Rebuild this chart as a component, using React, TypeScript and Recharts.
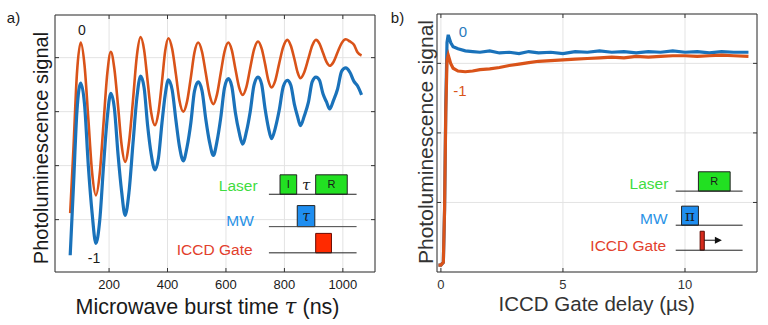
import React from "react";
import {
  LineChart,
  Line,
  XAxis,
  YAxis,
  CartesianGrid,
  ReferenceArea,
  ReferenceLine,
  ReferenceDot,
} from "recharts";

// a) Rabi oscillation vs microwave burst time (ns)
const rabiTime = [
  67, 78, 90, 103, 116, 129, 142, 155, 168, 181, 194, 206, 218, 231, 243, 255,
  268, 282, 295, 308, 320, 332, 344, 357, 369, 381, 392, 403, 416, 429, 441, 454,
  467, 480, 492, 505, 518, 531, 544, 557, 569, 582, 595, 608, 620, 632, 645, 657,
  670, 683, 696, 710, 722, 734, 745, 756, 769, 782, 796, 810, 822, 834, 845, 855,
  868, 882, 895, 908, 920, 932, 944, 955, 968, 982, 996, 1010, 1024, 1038, 1050, 1064,
];
const rabiZero = [
  1.12, 2.3, 3.7, 4.28, 3.86, 2.87, 1.87, 1.45, 1.85, 2.78, 3.71, 4.11, 3.8, 3.09, 2.38, 2.07,
  2.42, 3.22, 4.03, 4.38, 4.14, 3.56, 2.99, 2.75, 2.99, 3.55, 4.12, 4.36, 4.16, 3.68, 3.2, 3.0,
  3.19, 3.64, 4.09, 4.28, 4.11, 3.71, 3.31, 3.14, 3.31, 3.71, 4.11, 4.28, 4.14, 3.8, 3.45, 3.31,
  3.46, 3.81, 4.15, 4.3, 4.17, 3.88, 3.58, 3.45, 3.58, 3.89, 4.2, 4.33, 4.22, 3.98, 3.73, 3.62,
  3.73, 3.98, 4.22, 4.33, 4.26, 4.09, 3.92, 3.85, 3.92, 4.1, 4.27, 4.34, 4.3, 4.24, 4.1, 4.04,
];
const rabiMinus = [
  0.34, 1.6, 3.0, 3.53, 3.14, 2.0, 1.12, 0.56, 0.98, 1.99, 2.9, 3.34, 3.07, 2.19, 1.52, 1.08,
  1.5, 2.42, 3.25, 3.66, 3.44, 2.74, 2.22, 1.92, 2.14, 2.79, 3.31, 3.59, 3.4, 2.83, 2.35, 2.09,
  2.35, 2.8, 3.37, 3.55, 3.39, 2.86, 2.43, 2.19, 2.44, 2.88, 3.44, 3.61, 3.47, 2.99, 2.62, 2.4,
  2.63, 3.0, 3.49, 3.64, 3.51, 3.05, 2.71, 2.5, 2.7, 3.02, 3.46, 3.58, 3.49, 3.14, 2.91, 2.74,
  2.92, 3.17, 3.55, 3.64, 3.58, 3.33, 3.18, 3.05, 3.21, 3.42, 3.75, 3.81, 3.73, 3.56, 3.48, 3.31,
];
const rabiTicks = [200, 400, 600, 800, 1000];
const rabiLevels = [1, 2, 3, 4];

// b) PL vs ICCD gate delay (µs)
const delayTime = [
  -0.1, 0.0, 0.1, 0.15, 0.2, 0.25, 0.3, 0.4, 0.5, 0.7, 1.0, 1.3, 1.6, 2.0, 2.4, 2.8, 3.2, 3.6,
  4.0, 4.5, 5.0, 5.5, 6.0, 6.5, 7.0, 7.5, 8.0, 8.5, 9.0, 9.5, 10.0, 10.5, 11.0, 11.5, 12.0, 12.6,
];
const delayZero = [
  0.1, 0.1, 0.14, 0.9, 2.4, 3.3, 3.41, 3.3, 3.24, 3.21, 3.18, 3.17, 3.16, 3.18, 3.15, 3.16, 3.14, 3.17,
  3.15, 3.16, 3.14, 3.17, 3.16, 3.18, 3.16, 3.17, 3.15, 3.17, 3.16, 3.18, 3.16, 3.17, 3.15, 3.17, 3.16, 3.16,
];
const delayMinus = [
  0.1, 0.1, 0.14, 0.9, 2.3, 3.05, 3.12, 3.0, 2.93, 2.89, 2.88, 2.89, 2.91, 2.92, 2.94, 2.97, 2.99, 3.01,
  3.03, 3.04, 3.05, 3.06, 3.07, 3.08, 3.09, 3.08, 3.1, 3.09, 3.1, 3.11, 3.11, 3.1, 3.11, 3.12, 3.11, 3.1,
];
const delayTicks = [0, 5, 10];
const delayLevels = [1, 2, 3];

const rabiData = rabiTime.map((t, i) => ({ t, zero: rabiZero[i], minus: rabiMinus[i] }));
const delayData = delayTime.map((t, i) => ({ t, zero: delayZero[i], minus: delayMinus[i] }));

const ORANGE = "#d95319";
const BLUE = "#1a72ba";
const GRID = "#e3e3e3";
const AXIS = "#333";
const GREEN_TXT = "#3fdc3f";
const GREEN_BOX = "#22e022";
const BLUE_TXT = "#2a92e6";
const BLUE_BOX = "#1f8ef0";
const RED_TXT = "#e2402c";
const FONT = "'Liberation Sans', Arial, Helvetica, sans-serif";

const makeTick = (side: string, color?: string) => (p: any) => {
  const { x, y, payload } = p;
  const L = 4;
  const c =
    side === "bottom" ? [x, y, x, y - L] :
    side === "top" ? [x, y, x, y + L] :
    side === "left" ? [x, y, x + L, y] : [x, y, x - L, y];
  return (
    <g>
      <line x1={c[0]} y1={c[1]} x2={c[2]} y2={c[3]} stroke={AXIS} strokeWidth={1} />
      {color && (
        <text x={x} y={y + 17} textAnchor="middle" fontSize={13} fontFamily={FONT} fill={color}>
          {payload.value}
        </text>
      )}
    </g>
  );
};

const txtLabel = (value: string, fill: string, size = 15.5) => ({
  value,
  position: "left" as const,
  offset: 0,
  fill,
  fontSize: size,
  fontFamily: FONT,
});

const boxLabel = (value: string, italic = false, serif = false, size = 11) => ({
  value,
  position: "center" as const,
  fill: "#1a1a1a",
  fontSize: size,
  fontStyle: italic ? "italic" : "normal",
  fontFamily: serif ? "'DejaVu Serif', 'Liberation Serif', serif" : FONT,
});

// axes are 1px thick so that they render; margins account for that
const Frame = (ticksX: number[], ticksY: number[], domX: number[], domY: number[], txtColor: string) => [
  <CartesianGrid key="g" stroke={GRID} vertical horizontal />,
  <XAxis key="xb" dataKey="t" type="number" domain={domX} allowDataOverflow ticks={ticksX} interval={0}
    height={1} tickSize={0} tickMargin={0} stroke={AXIS} tick={makeTick("bottom", txtColor)} />,
  <XAxis key="xt" xAxisId="top" orientation="top" dataKey="t" type="number" domain={domX} allowDataOverflow
    ticks={ticksX} interval={0} height={1} tickSize={0} tickMargin={0} stroke={AXIS} tick={makeTick("top")} />,
  <YAxis key="yl" type="number" domain={domY} allowDataOverflow ticks={ticksY} interval={0} width={1}
    tickSize={0} tickMargin={0} stroke={AXIS} tick={makeTick("left")} />,
  <YAxis key="yr" yAxisId="right" orientation="right" type="number" domain={domY} allowDataOverflow
    ticks={ticksY} interval={0} width={1} tickSize={0} tickMargin={0} stroke={AXIS} tick={makeTick("right")} />,
];

const Abs = ({ x, y, size, color, children, rotate = false }: any) => (
  <div
    style={{
      position: "absolute",
      left: x,
      top: y,
      transform: `translate(-50%, -50%)${rotate ? " rotate(-90deg)" : ""}`,
      fontSize: size,
      color,
      lineHeight: 1,
      whiteSpace: "nowrap",
      fontFamily: FONT,
    }}
  >
    {children}
  </div>
);

export default function App() {
  return (
    <div style={{ position: "absolute", left: 0, top: 0, width: 768, height: 325, background: "#fff", overflow: "hidden" }}>
      <div style={{ position: "absolute", left: 0, top: 0 }}>
        <LineChart width={384} height={325} data={rabiData} margin={{ top: 14, right: 8, bottom: 52, left: 54 }}>
          {Frame(rabiTicks, rabiLevels, [15, 1110], [0.03, 4.79], "#1a1a1a")}
          <Line dataKey="zero" type="monotone" stroke={ORANGE} strokeWidth={2.6} dot={false} isAnimationActive={false} />
          <Line dataKey="minus" type="monotone" stroke={BLUE} strokeWidth={3.2} dot={false} isAnimationActive={false} />

          {/* pulse sequence inset */}
          <ReferenceLine segment={[{ x: 747, y: 1.47 }, { x: 1047, y: 1.47 }]} stroke="#222" />
          <ReferenceLine segment={[{ x: 747, y: 0.87 }, { x: 1047, y: 0.87 }]} stroke="#444" />
          <ReferenceLine segment={[{ x: 747, y: 0.385 }, { x: 1047, y: 0.385 }]} stroke="#222" />
          <ReferenceArea x1={785} x2={842} y1={1.47} y2={1.83} fill={GREEN_BOX} fillOpacity={1} stroke="#222" label={boxLabel("I")} />
          <ReferenceArea x1={907} x2={1015} y1={1.47} y2={1.83} fill={GREEN_BOX} fillOpacity={1} stroke="#222" label={boxLabel("R")} />
          <ReferenceArea x1={844} x2={904} y1={0.87} y2={1.26} fill={BLUE_BOX} fillOpacity={1} stroke="#222" label={boxLabel("τ", true, true, 14)} />
          <ReferenceArea x1={907} x2={961} y1={0.385} y2={0.745} fill="#ff2a00" fillOpacity={1} stroke="#6a0a00" />
          <ReferenceDot x={874} y={1.64} r={0.5} fill="none" stroke="none"
            label={{ ...boxLabel("τ", true, true, 15), position: "center" }} />
          <ReferenceDot x={710} y={1.64} r={0.5} fill="none" stroke="none" label={txtLabel("Laser", GREEN_TXT)} />
          <ReferenceDot x={697} y={0.99} r={0.5} fill="none" stroke="none" label={txtLabel("MW", BLUE_TXT)} />
          <ReferenceDot x={693} y={0.45} r={0.5} fill="none" stroke="none" label={txtLabel("ICCD Gate", RED_TXT)} />
        </LineChart>
      </div>

      <div style={{ position: "absolute", left: 384, top: 0 }}>
        <LineChart width={384} height={325} data={delayData} margin={{ top: 13, right: 10, bottom: 52, left: 52 }}>
          {Frame(delayTicks, delayLevels, [-0.16, 12.95], [0, 3.71], "#333")}
          <Line dataKey="zero" type="linear" stroke={BLUE} strokeWidth={3.2} dot={false} isAnimationActive={false} />
          <Line dataKey="minus" type="linear" stroke={ORANGE} strokeWidth={3.2} dot={false} isAnimationActive={false} />

          <ReferenceLine segment={[{ x: 9.62, y: 1.163 }, { x: 12.36, y: 1.163 }]} stroke="#222" />
          <ReferenceLine segment={[{ x: 9.62, y: 0.673 }, { x: 12.36, y: 0.673 }]} stroke="#222" />
          <ReferenceLine segment={[{ x: 9.62, y: 0.313 }, { x: 12.36, y: 0.313 }]} stroke="#222" />
          <ReferenceArea x1={10.55} x2={11.85} y1={1.163} y2={1.441} fill={GREEN_BOX} fillOpacity={1} stroke="#222" label={boxLabel("R")} />
          <ReferenceArea x1={9.86} x2={10.55} y1={0.673} y2={0.947} fill={BLUE_BOX} fillOpacity={1} stroke="#222" label={boxLabel("π", false, true, 15)} />
          <ReferenceArea x1={10.62} x2={10.79} y1={0.313} y2={0.586} fill="#d62a1c" fillOpacity={1} stroke="#5a0a00" />
          <ReferenceLine segment={[{ x: 10.79, y: 0.457 }, { x: 11.35, y: 0.457 }]} stroke="#111" />
          <ReferenceDot x={11.51} y={0.457} r={1} fill="#111" stroke="none"
            shape={(p: any) => (
              <polygon points={`${p.cx},${p.cy} ${p.cx - 7},${p.cy - 3.5} ${p.cx - 7},${p.cy + 3.5}`} fill="#111" />
            )} />
          <ReferenceDot x={9.34} y={1.274} r={0.5} fill="none" stroke="none" label={txtLabel("Laser", GREEN_TXT)} />
          <ReferenceDot x={9.31} y={0.769} r={0.5} fill="none" stroke="none" label={txtLabel("MW", BLUE_TXT)} />
          <ReferenceDot x={9.25} y={0.385} r={0.5} fill="none" stroke="none" label={txtLabel("ICCD Gate", RED_TXT)} />
        </LineChart>
      </div>

      <Abs x={13.5} y={17} size={15} color="#1a1a1a">a)</Abs>
      <Abs x={397.5} y={17} size={15} color="#1a1a1a">b)</Abs>
      <Abs x={82} y={30} size={14} color="#1a1a1a">0</Abs>
      <Abs x={94} y={258} size={14} color="#1a1a1a">-1</Abs>
      <Abs x={463} y={31} size={15} color="#2b7bbd">0</Abs>
      <Abs x={460} y={90} size={15} color={ORANGE}>-1</Abs>

      <Abs x={40.5} y={148} size={20} color="#1a1a1a" rotate>Photoluminescence signal</Abs>
      <Abs x={425} y={142} size={21} color="#333" rotate>Photoluminescence signal</Abs>
      <Abs x={207.5} y={307} size={21.5} color="#1a1a1a">
        Microwave burst time <span style={{ fontFamily: "'DejaVu Serif', serif", fontStyle: "italic" }}>τ</span> (ns)
      </Abs>
      <Abs x={596.7} y={304} size={20.5} color="#333">ICCD Gate delay (µs)</Abs>
    </div>
  );
}
